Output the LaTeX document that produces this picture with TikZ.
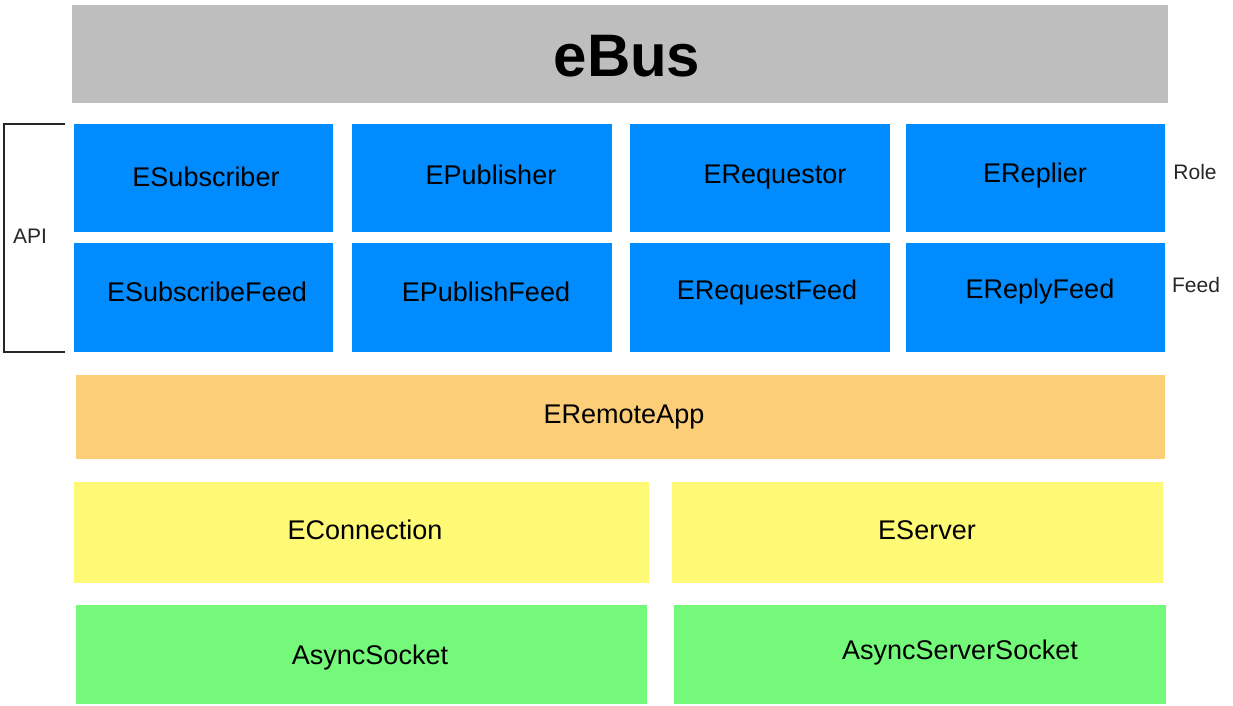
\documentclass[tikz,border=0pt]{standalone}
\usepackage{fontspec}
\setmainfont{Liberation Sans}
\usetikzlibrary{fit}
\definecolor{busGray}{RGB}{190,190,190}
\definecolor{apiBlue}{RGB}{0,140,255}
\definecolor{appOrange}{RGB}{253,206,120}
\definecolor{connYellow}{RGB}{255,250,117}
\definecolor{sockGreen}{RGB}{117,249,122}

\begin{document}
\begin{tikzpicture}[x=0.5pt,y=-0.5pt,
  layer/.style={inner sep=0pt,outer sep=0pt},
  bus/.style={layer,fill=busGray},
  api/.style={layer,fill=apiBlue},
  app/.style={layer,fill=appOrange},
  conn/.style={layer,fill=connYellow},
  sock/.style={layer,fill=sockGreen},
  txt/.style={font=\fontsize{13.5}{16}\selectfont,inner sep=0pt,
              text height=9.7pt,text depth=0pt},
  side/.style={font=\fontsize{10.5}{13}\selectfont,inner sep=0pt,
               text height=7.6pt,text depth=0pt,text=black!85},
  brace/.style={line width=0.75pt,draw=black!85}]
\useasboundingbox (0,0) rectangle (1233,706);

% eBus banner
\node[bus,fit={(72,5) (1168,103)}] (bus) {};
\node[font=\bfseries\fontsize{30}{36}\selectfont,inner sep=0pt,
      text height=21.6pt,text depth=0pt] (bus-t) at (627,55) {eBus};

% Role row and Feed row
\foreach \n/\xa/\xb/\t/\tx/\ty in {%
  sub/74/333/ESubscriber/206/177,
  pub/352/612/EPublisher/491/175,
  req/630/890/ERequestor/775/174,
  rep/906/1165/EReplier/1035/173}
{
  \node[api,fit={(\xa,124) (\xb,232)}] (\n) {};
  \node[txt] (\n-t) at (\tx,\ty) {\t};
}
\foreach \n/\xa/\xb/\t/\tx/\ty in {%
  subf/74/333/ESubscribeFeed/207/292,
  pubf/352/612/EPublishFeed/486/292,
  reqf/630/890/ERequestFeed/767/290,
  repf/906/1165/EReplyFeed/1040/289}
{
  \node[api,fit={(\xa,243) (\xb,352)}] (\n) {};
  \node[txt] (\n-t) at (\tx,\ty) {\t};
}
\node[side] (role) at (1195,172) {Role};
\node[side] (feed) at (1196,285) {Feed};

% API bracket
\coordinate (api-top) at (65,124);
\coordinate (api-bot) at (65,352);
\draw[brace] (api-top) -| (4,352) -- (api-bot);
\node[side] (api) at (30,236) {API};

% remote app
\node[app,fit={(76,375) (1165,459)}] (remote) {};
\node[txt] (remote-t) at (624,414) {ERemoteApp};

% connection and server
\node[conn,fit={(74,482) (649,583)}] (conn) {};
\node[txt] (conn-t) at (365,530) {EConnection};
\node[conn,fit={(672,482) (1163,583)}] (server) {};
\node[txt] (server-t) at (927,530) {EServer};

% sockets
\node[sock,fit={(76,605) (647,704)}] (sock) {};
\node[txt] (sock-t) at (370,655) {AsyncSocket};
\node[sock,fit={(674,605) (1166,704)}] (ssock) {};
\node[txt] (ssock-t) at (960,650) {AsyncServerSocket};
\end{tikzpicture}
\end{document}
